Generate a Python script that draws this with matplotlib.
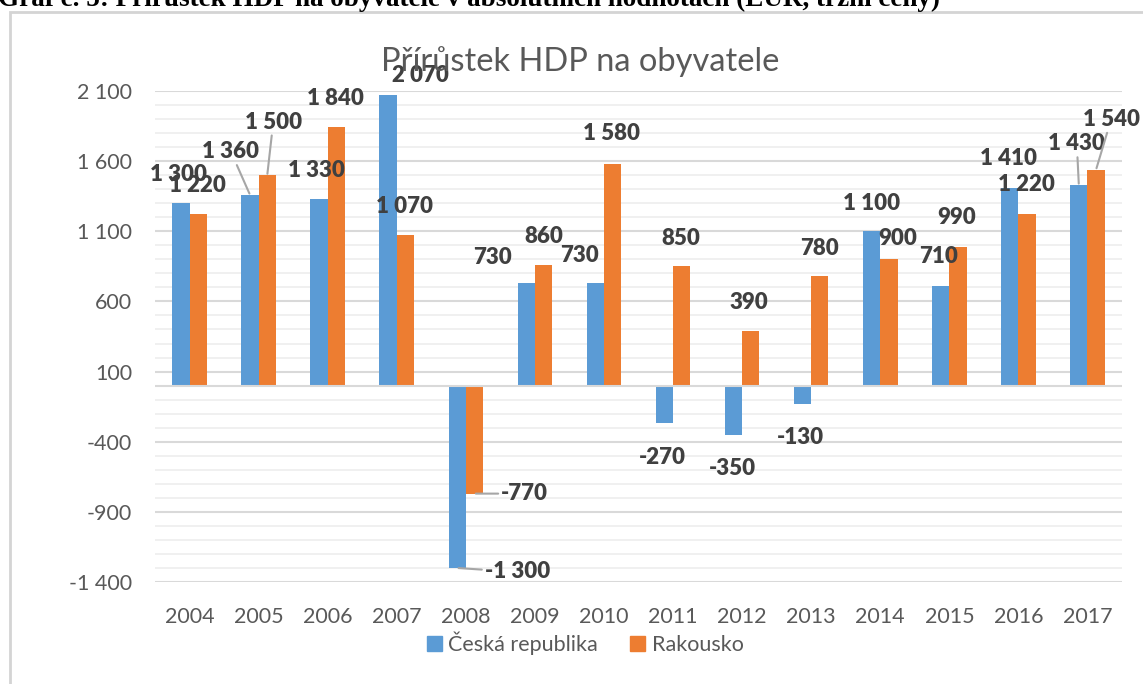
import matplotlib
matplotlib.use("Agg")
import matplotlib.pyplot as plt
from matplotlib.patches import Rectangle, Patch
from matplotlib.ticker import MultipleLocator, FuncFormatter
import numpy as np

years = ["2004", "2005", "2006", "2007", "2008", "2009", "2010",
         "2011", "2012", "2013", "2014", "2015", "2016", "2017"]
cz = [1300, 1360, 1330, 2070, -1300, 730, 730, -270, -350, -130, 1100, 710, 1410, 1430]
at = [1220, 1500, 1840, 1070, -770, 860, 1580, 850, 390, 780, 900, 990, 1220, 1540]

# label offsets in pixels from the bar end (Excel labels were moved by hand)
cz_off = [(-2, -29), (-19, -43), (-3, -29), (32, -20), (60, 4), (-34, -26), (-16, -28),
          (-2, 34), (-1, 34), (-2, 34), (0, -28), (-2, -29), (-1, -29), (-2, -41)]
at_off = [(-1, -29), (6, -53), (-1, -29), (-1, -29), (50, 0), (0, -28), (-1, -30),
          (-1, -28), (-2, -28), (0, -28), (9, -21), (-1, -29), (-1, -30), (15, -50)]
cz_lead = [1, 4, 13]
at_lead = [1, 4, 13]

BLUE = "#5B9BD5"
ORANGE = "#ED7D31"
FONT = "Lato"

def fmt(v):
    return f"{int(v):,}".replace(",", " ")

W, H = 1143, 684
fig = plt.figure(figsize=(W / 100, H / 100), dpi=100)
fig.patch.set_facecolor("white")

# outer frame of the embedded chart and the cut-off caption above it
fig.add_artist(Rectangle((10 / W, -0.1), 1.2, 1.1 - 12 / H, transform=fig.transFigure,
                         fill=False, edgecolor="#d4d4d4", lw=2))
fig.text(-0.002, 1 - 6 / H,
         "Graf č. 5: Přírůstek HDP na obyvatele v absolutních hodnotách (EUR, tržní ceny)",
         family="Liberation Serif", weight="bold", fontsize=19.5, va="baseline", color="black")

ax = fig.add_axes([155 / W, 1 - 582 / H, (1122 - 155) / W, (582 - 91) / H])
x = np.arange(len(years))
w = 0.25
ax.bar(x - w / 2, cz, w, color=BLUE, zorder=3)
ax.bar(x + w / 2, at, w, color=ORANGE, zorder=3)

ax.set_xlim(-0.5, len(years) - 0.5)
ax.set_ylim(-1400, 2100)
ax.yaxis.set_major_locator(MultipleLocator(500, offset=100))
ax.yaxis.set_minor_locator(MultipleLocator(100))
ax.yaxis.set_major_formatter(FuncFormatter(lambda v, p: fmt(v)))
ax.grid(axis="y", which="major", color="#d9d9d9", lw=1.5, zorder=0)
ax.grid(axis="y", which="minor", color="#efefef", lw=1.3, zorder=0)
ax.axhline(0, color="#d9d9d9", lw=1.5, zorder=4)
for s in ax.spines.values():
    s.set_visible(False)
ax.set_xticks(x)
ax.set_xticklabels(years)
ax.tick_params(axis="both", which="both", length=0, labelcolor="#595959", labelsize=15.5)
ax.tick_params(axis="x", pad=18)
ax.tick_params(axis="y", pad=16.5)
for t in ax.get_xticklabels() + ax.get_yticklabels():
    t.set_family(FONT)

def label(xs, vals, offs, leads):
    for i, (xi, v) in enumerate(zip(xs, vals)):
        dx, dy = offs[i]
        props = None
        if i in leads:
            props = dict(arrowstyle="-", color="#a6a6a6", lw=1.5, shrinkA=0, shrinkB=1)
        ax.annotate(fmt(v), xy=(xi, v), xytext=(dx, -dy), textcoords="offset pixels",
                    ha="center", va="center", fontsize=16, fontweight="heavy",
                    family=FONT, color="#404040", arrowprops=props, zorder=5)

label(x - w / 2, cz, cz_off, cz_lead)
label(x + w / 2, at, at_off, at_lead)

fig.text(580 / W, 1 - 62 / H, "Přírůstek HDP na obyvatele", ha="center", va="center",
         fontsize=23.5, family=FONT, color="#595959")

handles = [Patch(color=BLUE, label="Česká republika"), Patch(color=ORANGE, label="Rakousko")]
fig.legend(handles=handles, loc="center", bbox_to_anchor=(585 / W, 1 - 643 / H), ncol=2,
           frameon=False, handlelength=0.7, handleheight=0.7, handletextpad=0.3,
           columnspacing=1.5, prop={"family": FONT, "size": 15.5}, labelcolor="#595959")

fig.savefig("out.png", dpi=100)
